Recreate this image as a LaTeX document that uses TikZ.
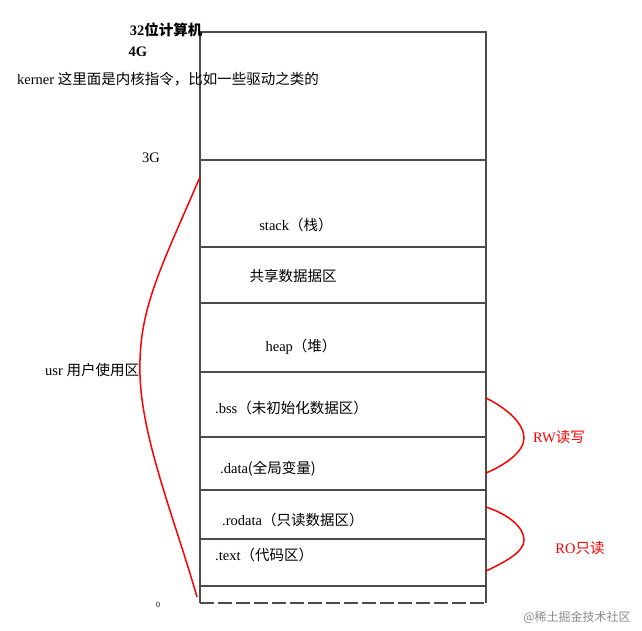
\documentclass[tikz,border=0pt]{standalone}
\usepackage{fontspec}
\setmainfont{Liberation Serif}
\newfontfamily\zh{Noto Sans CJK SC}
\begin{document}
\begin{tikzpicture}[x=1pt,y=-1pt,
  seg/.style={draw=black!70,line width=1.5pt},
  lbl/.style={font=\fontsize{14.5}{16}\selectfont,inner sep=0pt},
  red lbl/.style={lbl,text=red},
  brace/.style={draw=red,line width=1.5pt}]
\useasboundingbox[fill=white] (0,0) rectangle (642,631);
\draw[seg] (200,32) rectangle (486,160);
\draw[seg] (200,160) rectangle (486,247);
\draw[seg] (200,247) rectangle (486,303);
\draw[seg] (200,303) rectangle (486,372);
\draw[seg] (200,372) rectangle (486,437);
\draw[seg] (200,437) rectangle (486,490);
\draw[seg] (200,490) rectangle (486,539);
\draw[seg] (200,539) rectangle (486,586);
\draw[seg] (200,586) -- (200,603);
\draw[seg] (486,586) -- (486,603);
\draw[seg,dashed,dash pattern=on 14pt off 4pt] (200,603) -- (486,603);
\node[lbl] (t1) at (166,30) {\bfseries 32\zh 位计算机};
\node[lbl] (t2) at (138,52) {\bfseries 4G};
\node[lbl,anchor=west] (t3) at (17,79) {kerner \zh 这里面是内核指令，比如一些驱动之类的};
\node[lbl] (t4) at (151,158) {3G};
\node[lbl,anchor=west] (t5) at (45,370) {usr \zh 用户使用区};
\node[lbl] (s1) at (296,225) {stack{\zh（栈）}};
\node[lbl] (s2) at (293,276) {\zh 共享数据据区};
\node[lbl] (s3) at (301,347) {heap{\zh（堆）}};
\node[lbl,anchor=west] (s4) at (215,408) {.bss{\zh（未初始化数据区）}};
\node[lbl,anchor=west] (s5) at (220,469) {.data{\zh(全局变量)}};
\node[lbl,anchor=west] (s6) at (222,520) {.rodata{\zh（只读数据区）}};
\node[lbl,anchor=west] (s7) at (215,555) {.text{\zh（代码区）}};
\node[red lbl] (rw) at (559,437) {RW\zh 读写};
\node[red lbl] (ro) at (580,548) {RO\zh 只读};
\node[lbl,font=\fontsize{8}{9}\selectfont] (z) at (158,605) {0};
\node[lbl,text=black!45,font=\zh\fontsize{12}{14}\selectfont] (wm) at (577,617) {@稀土掘金技术社区};
\coordinate (a1) at (200,177); \coordinate (a2) at (197,597);
\draw[brace] (a1) .. controls (160,270) and (138,310) .. (140,375) .. controls (142,440) and (175,520) .. (a2);
\coordinate (b1) at (486,398); \coordinate (b2) at (486,473);
\draw[brace] (b1) .. controls (510,410) and (524,425) .. (524,438) .. controls (524,452) and (505,465) .. (b2);
\coordinate (c1) at (486,507); \coordinate (c2) at (486,571);
\draw[brace] (c1) .. controls (510,515) and (524,528) .. (524,540) .. controls (524,552) and (505,562) .. (c2);
\end{tikzpicture}
\end{document}
